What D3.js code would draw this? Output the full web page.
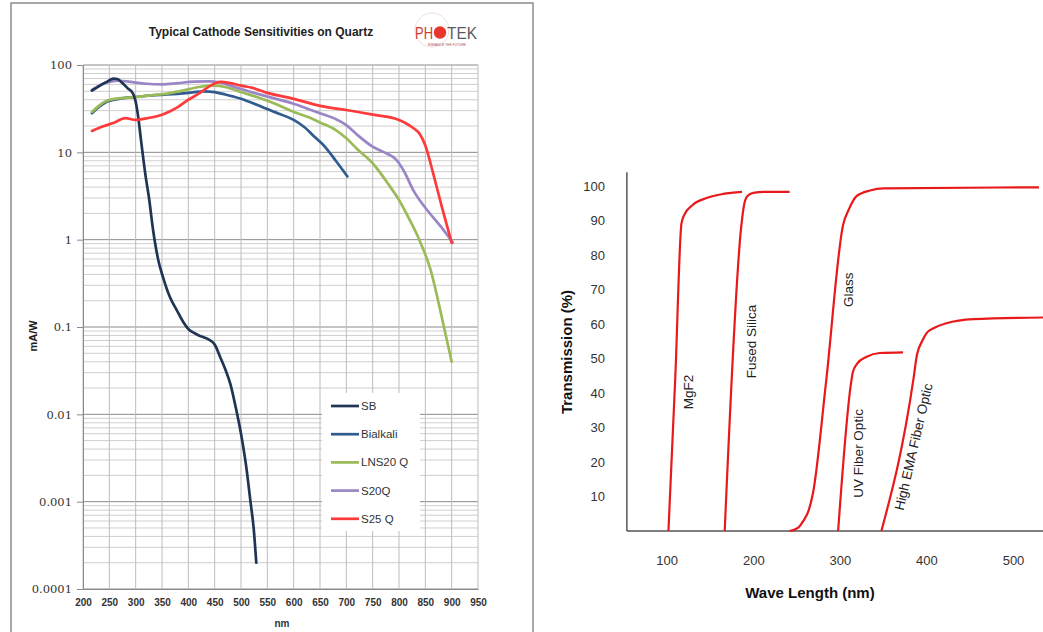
<!DOCTYPE html>
<html>
<head>
<meta charset="utf-8">
<script src="https://cdn.jsdelivr.net/npm/d3@7"></script>
<style>
body { margin: 0; background: #fff; }
svg text { font-family: "Liberation Sans", Arial, sans-serif; }
</style>
</head>
<body>
<div id="chart"></div>
<script>
// ---- left chart: cathode sensitivities (mA/W, log scale) ----
var sbNm  = [217,230,245,258,265,275,285,295,300,305,310,315,320,325,333,343,352,365,378,390,400,410,420,430,440,450,460,470,480,490,500,510,518,524,529];
var sbVal = [51,57,64,70,69,62,54,47,38,25,14,8,4.8,3.1,1.3,0.58,0.37,0.22,0.156,0.115,0.095,0.086,0.08,0.076,0.071,0.063,0.046,0.033,0.022,0.012,0.006,0.0025,0.001,0.0005,0.0002];

var bialkaliNm  = [217,230,245,260,280,300,330,360,400,430,450,470,500,530,560,600,620,640,660,680,702];
var bialkaliVal = [28,33,38,40,42,43,45,46,48,50,49,46,41,35,29.5,23.5,19.5,15,11.5,8,5.3];

var lns20Nm  = [217,230,245,260,280,300,330,360,390,420,450,470,500,530,560,600,630,650,680,700,720,750,780,800,820,840,860,880,900];
var lns20Val = [29,34,39,41,42,43,45,47,51,56,58,56,49,43,37,29,25,22,18,14.5,11,7.5,4.3,2.85,1.7,0.95,0.45,0.14,0.04];

var s20Nm  = [217,230,250,270,290,320,350,380,410,440,460,480,500,530,560,600,630,650,680,700,720,750,775,795,810,827,853,880,902];
var s20Val = [52,58,64,66,64,61,60,62,64.5,65,63,58,53,47,42,36,31,28,24,20.5,16,11.6,9.8,8.2,6,3.7,2.2,1.4,0.93];

var s25Nm  = [217,240,260,280,300,320,350,380,400,420,440,460,480,500,520,550,600,650,700,750,800,810,827,840,850,865,882,900];
var s25Val = [17.6,20,22,24.7,23.5,24.5,27,33,40,47,57,64,62,58,55,48,41,34,30.5,27,23.5,22,19,16,12,5.7,2.3,0.92];

var seriesNames  = ["SB", "Bialkali", "LNS20 Q", "S20Q", "S25 Q"];
var seriesColors = ["#1f3553", "#2f5b8f", "#9bbb59", "#9a86c6", "#ff3a3a"];
var xTicksLeft = [200,250,300,350,400,450,500,550,600,650,700,750,800,850,900,950];
var yTicksLeft = [0.0001,0.001,0.01,0.1,1,10,100];
var yTickLabelsLeft = ["0.0001","0.001","0.01","0.1","1","10","100"];

// ---- right chart: window transmission (%) ----
var mgf2Nm  = [102,110,117,120,130,146,165,187];
var mgf2Val = [0,45,89,91.5,94.5,96.5,97.7,98.3];
var silicaNm  = [167,186,189,193,200,215,242];
var silicaVal = [0,88,94,97,98,98.3,98.3];
var glassNm  = [242,252,258,264,269,284,304,310,319,335,350,530];
var glassVal = [0,1,3,6,11,43,89,93,97,98.7,99.3,99.6];
var uvNm  = [298,313,315,320,331,346,373];
var uvVal = [0,43,46,48.5,50.5,51.6,51.8];
var emaNm  = [348,385,389,395,400,410,423,454,540];
var emaVal = [0,44,51,55,57.3,59,60.2,61.4,61.9];

var windowNames = ["MgF2", "Fused Silica", "Glass", "UV Fiber Optic", "High EMA Fiber Optic"];
var windowLabelNm  = [124.5, 198, 310, 321.5, 385];
var windowLabelVal = [40.3, 54.9, 69.9, 22.5, 24.4];
var windowLabelAngle = [-90, -90, -90, -90, -77];
var xTicksRight = [100,200,300,400,500];
var yTicksRight = [10,20,30,40,50,60,70,80,90,100];

var width = 1043, height = 632;

var svg = d3.select("#chart").append("svg")
    .attr("width", width)
    .attr("height", height);

// ================= LEFT PANEL =================
svg.append("rect")
    .attr("x", 11).attr("y", 3)
    .attr("width", 522).attr("height", 640)
    .attr("fill", "#fff")
    .attr("stroke", "#8c8c8c")
    .attr("stroke-width", 1.5);

var xL = d3.scaleLinear().domain([200, 950]).range([83, 478]);
var yL = d3.scaleLog().domain([0.0001, 100]).range([589, 65]);

// horizontal grid lines (minor + decade)
var hLines = [];
for (var e = -4; e <= 1; e++) {
    for (var k = 1; k <= 9; k++) {
        hLines.push({ v: k * Math.pow(10, e), major: k === 1 });
    }
}
hLines.push({ v: 100, major: true });

svg.append("g").selectAll("line")
    .data(hLines)
    .enter().append("line")
    .attr("x1", xL(200)).attr("x2", xL(950))
    .attr("y1", function(d) { return yL(d.v); })
    .attr("y2", function(d) { return yL(d.v); })
    .attr("stroke", function(d) { return d.major ? "#8a8a8a" : "#cfcfcf"; })
    .attr("stroke-width", 1);

svg.append("g").selectAll("line")
    .data(xTicksLeft)
    .enter().append("line")
    .attr("x1", function(d) { return xL(d); })
    .attr("x2", function(d) { return xL(d); })
    .attr("y1", yL(100)).attr("y2", yL(0.0001))
    .attr("stroke", "#bdbdbd")
    .attr("stroke-width", 1);

// y axis
var yAxisL = svg.append("g")
    .attr("transform", "translate(" + xL(200) + ",0)")
    .call(d3.axisLeft(yL)
        .tickValues(yTicksLeft)
        .tickFormat(function(d, i) { return yTickLabelsLeft[i]; })
        .tickSize(6)
        .tickPadding(5));
yAxisL.select(".domain").attr("stroke", "#8a8a8a");
yAxisL.selectAll(".tick line").attr("stroke", "#8a8a8a");
yAxisL.selectAll("text")
    .style("font-family", "'DejaVu Serif', serif")
    .style("font-size", "11.5px")
    .attr("fill", "#333");

// x axis
var xAxisL = svg.append("g")
    .attr("transform", "translate(0," + yL(0.0001) + ")")
    .call(d3.axisBottom(xL)
        .tickValues(xTicksLeft)
        .tickFormat(d3.format("d"))
        .tickSize(0)
        .tickPadding(10));
xAxisL.select(".domain").attr("stroke", "#8a8a8a");
xAxisL.selectAll("text")
    .style("font-size", "10px")
    .style("font-weight", "bold")
    .attr("fill", "#333");

// series lines
var leftSeries = [
    { nm: sbNm, val: sbVal },
    { nm: bialkaliNm, val: bialkaliVal },
    { nm: lns20Nm, val: lns20Val },
    { nm: s20Nm, val: s20Val },
    { nm: s25Nm, val: s25Val }
];

var lineL = d3.line()
    .x(function(d) { return xL(d[0]); })
    .y(function(d) { return yL(d[1]); })
    .curve(d3.curveMonotoneX);

// draw back to front like the original (red on top)
[1, 2, 3, 0, 4].forEach(function(i) {
    var s = leftSeries[i];
    var pts = s.nm.map(function(n, j) { return [n, s.val[j]]; });
    svg.append("path")
        .attr("d", lineL(pts))
        .attr("fill", "none")
        .attr("stroke", seriesColors[i])
        .attr("stroke-width", 2.7)
        .attr("stroke-linejoin", "round")
        .attr("stroke-linecap", "round");
});

// legend
var legend = svg.append("g");
legend.append("rect")
    .attr("x", 322).attr("y", 393)
    .attr("width", 98).attr("height", 138)
    .attr("fill", "#fff");
seriesNames.forEach(function(name, i) {
    var ly = 406 + i * 28.2;
    legend.append("line")
        .attr("x1", 331).attr("x2", 359)
        .attr("y1", ly).attr("y2", ly)
        .attr("stroke", seriesColors[i])
        .attr("stroke-width", 2.7);
    legend.append("text")
        .attr("x", 361).attr("y", ly)
        .attr("dy", "0.35em")
        .style("font-size", "11.5px")
        .attr("fill", "#333")
        .text(name);
});

// titles
svg.append("text")
    .attr("x", 261).attr("y", 36)
    .attr("text-anchor", "middle")
    .style("font-size", "12px")
    .style("font-weight", "bold")
    .attr("fill", "#222")
    .text("Typical Cathode Sensitivities on Quartz");

svg.append("text")
    .attr("transform", "translate(37,336) rotate(-90)")
    .attr("text-anchor", "middle")
    .style("font-size", "11px")
    .style("font-weight", "bold")
    .attr("fill", "#222")
    .text("mA/W");

svg.append("text")
    .attr("x", 282).attr("y", 627)
    .attr("text-anchor", "middle")
    .style("font-size", "10px")
    .style("font-weight", "bold")
    .attr("fill", "#333")
    .text("nm");

// PHOTEK logo
var logo = svg.append("g");
logo.append("circle")
    .attr("cx", 432).attr("cy", 30).attr("r", 17)
    .attr("fill", "none")
    .attr("stroke", "#f3dede")
    .attr("stroke-width", 1);
logo.append("text")
    .attr("x", 415).attr("y", 39)
    .attr("textLength", 18)
    .attr("lengthAdjust", "spacingAndGlyphs")
    .style("font-size", "17px")
    .attr("fill", "#cf3a35")
    .text("PH");
logo.append("circle")
    .attr("cx", 440).attr("cy", 32.5).attr("r", 6.2)
    .attr("fill", "#e8362e");
logo.append("text")
    .attr("x", 447).attr("y", 39)
    .attr("textLength", 30)
    .attr("lengthAdjust", "spacingAndGlyphs")
    .style("font-size", "17px")
    .attr("fill", "#5a5a5a")
    .text("TEK");
logo.append("text")
    .attr("x", 447).attr("y", 45.5)
    .attr("text-anchor", "middle")
    .attr("textLength", 38)
    .attr("lengthAdjust", "spacingAndGlyphs")
    .style("font-size", "3px")
    .attr("fill", "#a55")
    .text("ENHANCE THE FUTURE");

// ================= RIGHT PANEL =================
var xR = d3.scaleLinear().domain([100, 500]).range([666.7, 1013]);
var yR = d3.scaleLinear().domain([0, 100]).range([531, 186]);

svg.append("line")
    .attr("x1", xR(54)).attr("x2", xR(54))
    .attr("y1", yR(104)).attr("y2", yR(0))
    .attr("stroke", "#555").attr("stroke-width", 1.5);
svg.append("line")
    .attr("x1", xR(54)).attr("x2", width)
    .attr("y1", yR(0)).attr("y2", yR(0))
    .attr("stroke", "#555").attr("stroke-width", 1.5);

var yAxisR = svg.append("g")
    .attr("transform", "translate(" + xR(54) + ",0)")
    .call(d3.axisLeft(yR).tickValues(yTicksRight).tickSize(0).tickPadding(22));
yAxisR.select(".domain").remove();
yAxisR.selectAll("text")
    .style("font-family", "'Liberation Sans', Arial, sans-serif")
    .style("font-size", "13px")
    .attr("fill", "#333");

var xAxisR = svg.append("g")
    .attr("transform", "translate(0," + yR(0) + ")")
    .call(d3.axisBottom(xR).tickValues(xTicksRight).tickSize(0).tickPadding(25));
xAxisR.select(".domain").remove();
xAxisR.selectAll("text")
    .style("font-family", "'Liberation Sans', Arial, sans-serif")
    .style("font-size", "13px")
    .attr("fill", "#333");

var rightSeries = [
    { nm: mgf2Nm, val: mgf2Val },
    { nm: silicaNm, val: silicaVal },
    { nm: glassNm, val: glassVal },
    { nm: uvNm, val: uvVal },
    { nm: emaNm, val: emaVal }
];

var lineR = d3.line()
    .x(function(d) { return xR(d[0]); })
    .y(function(d) { return yR(d[1]); })
    .curve(d3.curveMonotoneX);

rightSeries.forEach(function(s) {
    var pts = s.nm.map(function(n, j) { return [n, s.val[j]]; });
    svg.append("path")
        .attr("d", lineR(pts))
        .attr("fill", "none")
        .attr("stroke", "#e8191b")
        .attr("stroke-width", 2.2)
        .attr("stroke-linejoin", "round");
});

windowNames.forEach(function(name, i) {
    svg.append("text")
        .attr("transform", "translate(" + xR(windowLabelNm[i]) + "," + yR(windowLabelVal[i]) + ") rotate(" + windowLabelAngle[i] + ")")
        .attr("text-anchor", "middle")
        .attr("dy", "0.35em")
        .style("font-size", "13.5px")
        .attr("fill", "#222")
        .text(name);
});

svg.append("text")
    .attr("transform", "translate(567,352) rotate(-90)")
    .attr("text-anchor", "middle")
    .attr("dy", "0.35em")
    .style("font-size", "15px")
    .style("font-weight", "bold")
    .attr("fill", "#111")
    .text("Transmission (%)");

svg.append("text")
    .attr("x", 810).attr("y", 593)
    .attr("text-anchor", "middle")
    .attr("dy", "0.35em")
    .style("font-size", "15px")
    .style("font-weight", "bold")
    .attr("fill", "#111")
    .text("Wave Length (nm)");
</script>
</body>
</html>
